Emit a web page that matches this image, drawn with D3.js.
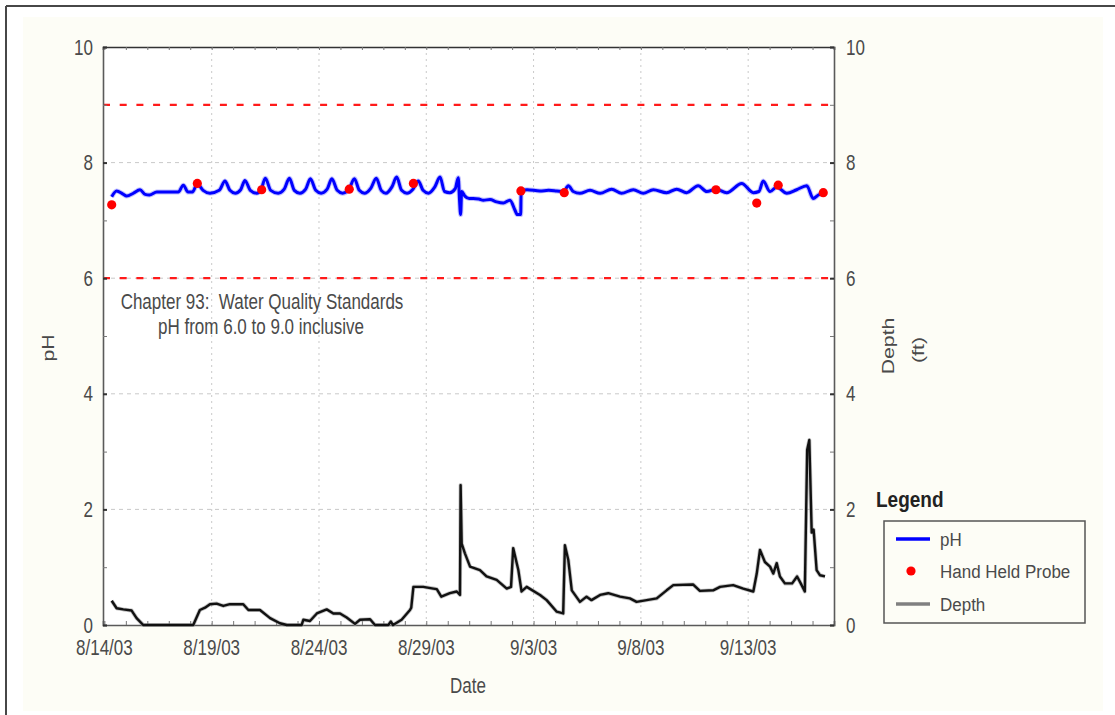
<!DOCTYPE html>
<html>
<head>
<meta charset="utf-8">
<script src="https://cdn.jsdelivr.net/npm/d3@7"></script>
<style>
  html, body { margin: 0; padding: 0; background: #ffffff; }
  svg { display: block; }
  text { font-family: "Liberation Sans", Arial, sans-serif; white-space: pre; }
</style>
</head>
<body>
<svg id="chart" width="1115" height="715"></svg>
<script>
// Continuous pH record: [days since 8/14/03 00:00, pH]
const phSeries = [
  [0.34,7.41],[0.57,7.51],[0.85,7.46],
  [1.04,7.42],[1.35,7.47],[1.66,7.53],[1.9,7.45],
  [2.1,7.44],[2.44,7.49],[3.44,7.49],[3.68,7.61],[3.9,7.49],
  [4.1,7.49],[4.33,7.63],[4.6,7.52],[4.92,7.47],
  [5.35,7.52],[5.62,7.68],[5.85,7.52],
  [6.1,7.47],[6.35,7.53],[6.55,7.69],[6.8,7.52],
  [7.1,7.47],[7.3,7.53],[7.5,7.73],[7.75,7.52],
  [8.1,7.47],[8.38,7.54],[8.62,7.73],[8.85,7.52],
  [9.11,7.47],[9.38,7.54],[9.6,7.72],[9.85,7.52],
  [10.1,7.47],[10.38,7.54],[10.6,7.72],[10.85,7.52],
  [11.1,7.47],[11.4,7.54],[11.65,7.72],[11.88,7.52],
  [12.12,7.47],[12.42,7.56],[12.67,7.73],[12.9,7.52],
  [13.12,7.47],[13.4,7.58],[13.62,7.75],[13.85,7.52],
  [14.1,7.47],[14.38,7.54],[14.63,7.68],[14.85,7.52],
  [15.1,7.47],[15.4,7.58],[15.64,7.75],[15.85,7.5],
  [16.1,7.48],[16.35,7.55],[16.49,7.74],[16.55,7.35],[16.6,7.1],[16.65,7.5],[16.8,7.42],[17.0,7.38],
  [17.19,7.38],[17.45,7.37],[17.66,7.35],[17.97,7.36],[18.28,7.32],[18.59,7.3],[18.9,7.35],
  [19.13,7.18],[19.24,7.1],[19.4,7.1],[19.42,7.51],
  [19.7,7.53],[20.3,7.51],[20.7,7.52],[21.08,7.51],[21.4,7.5],[21.62,7.6],[21.85,7.5],
  [22.16,7.47],[22.63,7.52],[23.1,7.47],[23.64,7.54],[24.1,7.47],[24.65,7.53],[25.11,7.47],
  [25.58,7.53],[26.2,7.48],[26.67,7.54],[27.13,7.48],[27.67,7.6],[28.07,7.5],[28.5,7.54],
  [29.0,7.48],[29.7,7.64],[30.24,7.48],[30.5,7.5],[30.7,7.68],[31.02,7.5],[31.33,7.58],
  [31.8,7.47],[32.26,7.53],[32.73,7.6],[33.03,7.38],[33.27,7.44],[33.5,7.47]
];

// Hand held probe spot checks
const probeDays = [0.34, 4.33, 7.33, 11.41, 14.4, 19.41, 21.43, 28.5, 30.4, 31.4, 33.5];
const probePH   = [7.27, 7.64, 7.53, 7.54, 7.64, 7.51, 7.48, 7.53, 7.30, 7.61, 7.48];

// Water depth (ft): [days since 8/14/03 00:00, depth]
const depthSeries = [
  [0.34,0.42],[0.57,0.29],[0.88,0.27],[1.27,0.25],[1.5,0.12],[1.81,0],[4.14,0],
  [4.45,0.26],[4.69,0.3],[4.92,0.36],[5.23,0.37],[5.54,0.33],[5.85,0.36],[6.47,0.36],
  [6.71,0.26],[7.25,0.26],[7.72,0.12],[8.18,0.03],[8.5,0],[9.19,0],[9.27,0.09],
  [9.58,0.07],[9.9,0.2],[10.36,0.27],[10.67,0.2],[10.98,0.2],[11.29,0.13],[11.68,0.02],
  [11.91,0.09],[12.38,0.1],[12.61,0],[13.23,0],[13.35,0.06],[13.45,0],[13.85,0.09],
  [14.24,0.26],[14.3,0.3],[14.4,0.66],[14.86,0.66],[15.33,0.63],[15.49,0.62],[15.7,0.49],
  [16.1,0.55],[16.42,0.58],[16.57,0.52],[16.6,2.42],[16.65,1.41],[16.8,1.24],[17.04,1.01],
  [17.5,0.95],[17.81,0.84],[18.28,0.78],[18.75,0.63],[18.95,0.66],[19.05,1.33],[19.29,0.95],
  [19.44,0.58],[19.68,0.66],[20.3,0.52],[20.61,0.43],[21.08,0.23],[21.38,0.2],[21.46,1.38],
  [21.62,1.12],[21.78,0.6],[22.16,0.4],[22.47,0.49],[22.7,0.43],[23.1,0.52],[23.48,0.55],
  [24.03,0.49],[24.49,0.46],[24.8,0.4],[25.27,0.43],[25.74,0.46],[26.2,0.6],[26.51,0.69],
  [27.44,0.7],[27.75,0.59],[28.37,0.6],[28.69,0.66],[29.3,0.69],[29.77,0.63],[30.24,0.58],
  [30.4,0.89],[30.55,1.3],[30.78,1.09],[31.02,1.01],[31.17,0.89],[31.33,1.07],[31.48,0.84],
  [31.71,0.72],[32.05,0.72],[32.28,0.84],[32.45,0.72],[32.64,0.58],[32.75,3.03],[32.85,3.2],
  [32.96,1.6],[33.05,1.65],[33.19,0.95],[33.35,0.86],[33.58,0.84]
];

// Water quality standard limits for pH
const phLimits = [6, 9];

// Axis ticks
const phTicks = [0, 2, 4, 6, 8, 10];
const depthTicks = [0, 2, 4, 6, 8, 10];
const dateTicks = ["8/14/03", "8/19/03", "8/24/03", "8/29/03", "9/3/03", "9/8/03", "9/13/03"];

const legendItems = ["pH", "Hand Held Probe", "Depth"];
const noteLines = ["Chapter 93:  Water Quality Standards", "pH from 6.0 to 9.0 inclusive"];

// ---------------------------------------------------------------------------
const svg = d3.select("#chart");
const plot = { left: 103, right: 834, top: 47, bottom: 625 };
const SY = 1.25;           // tall glyph proportion of the old plotting package
const textColor = "#4a4a4a";

const base = new Date(2003, 7, 14);
const toDate = d => new Date(base.getTime() + d * 864e5);
const parseTick = d3.timeParse("%m/%d/%y");

const x = d3.scaleTime()
  .domain([toDate(-0.065), toDate(34)])
  .range([plot.left, plot.right]);
const y = d3.scaleLinear().domain([0, 10]).range([plot.bottom, plot.top]);
const yDepth = d3.scaleLinear().domain([0, 10]).range([plot.bottom, plot.top]);

// page frame and panel
svg.append("rect").attr("x", 23).attr("y", 17).attr("width", 1080).attr("height", 694).attr("fill", "#fdfdf6");
svg.append("line").attr("x1", 6).attr("y1", 6).attr("x2", 1115).attr("y2", 6).attr("stroke", "#474747").attr("stroke-width", 2);
svg.append("line").attr("x1", 6).attr("y1", 6).attr("x2", 6).attr("y2", 715).attr("stroke", "#474747").attr("stroke-width", 2);

svg.append("rect")
  .attr("x", plot.left).attr("y", plot.top)
  .attr("width", plot.right - plot.left).attr("height", plot.bottom - plot.top)
  .attr("fill", "#ffffff");

function label(g, px, py, str, opts = {}) {
  const t = g.append("text")
    .attr("transform", `translate(${px},${py}) scale(1,${opts.sy || SY})${opts.rotate ? " rotate(" + opts.rotate + ")" : ""}`)
    .attr("text-anchor", opts.anchor || "middle")
    .attr("dominant-baseline", "central")
    .attr("font-size", opts.size || 17)
    .attr("font-weight", opts.weight || "normal")
    .attr("fill", opts.color || textColor)
    .text(str);
  return t;
}

// grid
const grid = svg.append("g");
const dateTickValues = dateTicks.map(parseTick);
grid.selectAll(".vg").data(dateTickValues.slice(1)).join("line")
  .attr("x1", d => x(d)).attr("x2", d => x(d))
  .attr("y1", plot.top).attr("y2", plot.bottom)
  .attr("stroke", "#c9c9c9").attr("stroke-width", 1).attr("stroke-dasharray", "2,4");
grid.selectAll(".hg").data(phTicks.filter(v => v > 0 && v < 10)).join("line")
  .attr("x1", plot.left).attr("x2", plot.right)
  .attr("y1", d => y(d)).attr("y2", d => y(d))
  .attr("stroke", "#c9c9c9").attr("stroke-width", 1).attr("stroke-dasharray", "4,4");

// standard limits
svg.selectAll(".limit").data(phLimits).join("line")
  .attr("x1", plot.left).attr("x2", plot.right)
  .attr("y1", d => y(d)).attr("y2", d => y(d))
  .attr("stroke", "#ff1a1a").attr("stroke-width", 2.2).attr("stroke-dasharray", "7,9.7");

// axes (tick marks drawn by d3.axis, labels added with the same scales)
const dayTicks = d3.timeDay.range(toDate(0), toDate(34.01));
const bottomAxis = svg.append("g").attr("transform", `translate(0,${plot.bottom})`)
  .call(d3.axisBottom(x).tickValues(dayTicks).tickSize(-4).tickFormat(""));
const topAxis = svg.append("g").attr("transform", `translate(0,${plot.top})`)
  .call(d3.axisTop(x).tickValues(dayTicks).tickSize(-3).tickFormat(""));
const leftAxis = svg.append("g").attr("transform", `translate(${plot.left},0)`)
  .call(d3.axisLeft(y).tickValues(d3.range(0, 11)).tickSize(-4).tickFormat(""));
const rightAxis = svg.append("g").attr("transform", `translate(${plot.right},0)`)
  .call(d3.axisRight(yDepth).tickValues(d3.range(0, 11)).tickSize(-4).tickFormat(""));
[bottomAxis, topAxis, leftAxis, rightAxis].forEach(a => {
  a.select(".domain").attr("stroke", "#5a5a5a").attr("stroke-width", 1.6);
  a.selectAll(".tick line").attr("stroke", "#777").attr("stroke-width", 1);
});
leftAxis.selectAll(".tick line").filter(d => d % 2 === 0).attr("stroke", "#333").attr("stroke-width", 2);
rightAxis.selectAll(".tick line").filter(d => d % 2 === 0).attr("stroke", "#333").attr("stroke-width", 2);
topAxis.select(".domain").attr("stroke", "#333");

const labels = svg.append("g");
phTicks.forEach(v => label(labels, 93, y(v) + 0.5, String(v), { anchor: "end" }));
depthTicks.forEach(v => label(labels, 846, yDepth(v) + 0.5, String(v), { anchor: "start" }));
dateTicks.forEach(s => label(labels, x(parseTick(s)), 648, s));

// axis titles
label(labels, 468, 686, "Date");
label(labels, 48, 348, "pH", { rotate: -90 });
label(labels, 888, 346, "Depth", { rotate: -90 });
label(labels, 918, 350, "(ft)", { rotate: -90 });

// standards note
label(labels, 262, 302, noteLines[0]);
label(labels, 261, 327, noteLines[1]);

// depth trace
const depthLine = d3.line().x(d => x(toDate(d[0]))).y(d => yDepth(d[1]));
svg.append("path").datum(depthSeries).attr("d", depthLine)
  .attr("fill", "none").attr("stroke", "#9a9a9a").attr("stroke-width", 4).attr("stroke-linejoin", "round").attr("opacity", 0.6);
svg.append("path").datum(depthSeries).attr("d", depthLine)
  .attr("fill", "none").attr("stroke", "#111").attr("stroke-width", 2.4).attr("stroke-linejoin", "round");

// pH trace
const phLine = d3.line().x(d => x(toDate(d[0]))).y(d => y(d[1])).curve(d3.curveMonotoneX);
svg.append("path").datum(phSeries).attr("d", phLine)
  .attr("fill", "none").attr("stroke", "#7a7aff").attr("stroke-width", 5).attr("stroke-linejoin", "round").attr("opacity", 0.45);
svg.append("path").datum(phSeries).attr("d", phLine)
  .attr("fill", "none").attr("stroke", "#0000ff").attr("stroke-width", 3).attr("stroke-linejoin", "round");

// probe readings
svg.selectAll(".probe").data(probeDays.map((d, i) => [d, probePH[i]])).join("circle")
  .attr("cx", d => x(toDate(d[0]))).attr("cy", d => y(d[1]))
  .attr("r", 4.6).attr("fill", "#ff0000");

// legend
const lg = svg.append("g");
label(lg, 876, 499, "Legend", { anchor: "start", weight: "bold", size: 19, color: "#222", sy: 1.15 });
lg.append("rect").attr("x", 884).attr("y", 521).attr("width", 201).attr("height", 102)
  .attr("fill", "#fdfdf6").attr("stroke", "#555").attr("stroke-width", 1.5);
const rowY = [539, 571, 604];
lg.append("line").attr("x1", 896).attr("x2", 930).attr("y1", rowY[0]).attr("y2", rowY[0]).attr("stroke", "#0000ff").attr("stroke-width", 3.5);
lg.append("circle").attr("cx", 911).attr("cy", rowY[1]).attr("r", 4.6).attr("fill", "#ff0000");
lg.append("line").attr("x1", 896).attr("x2", 930).attr("y1", rowY[2]).attr("y2", rowY[2]).attr("stroke", "#808080").attr("stroke-width", 3.5);
legendItems.forEach((s, i) => label(lg, 940, rowY[i] + 1, s, { anchor: "start", size: 17, sy: 1.12 }));
</script>
</body>
</html>
